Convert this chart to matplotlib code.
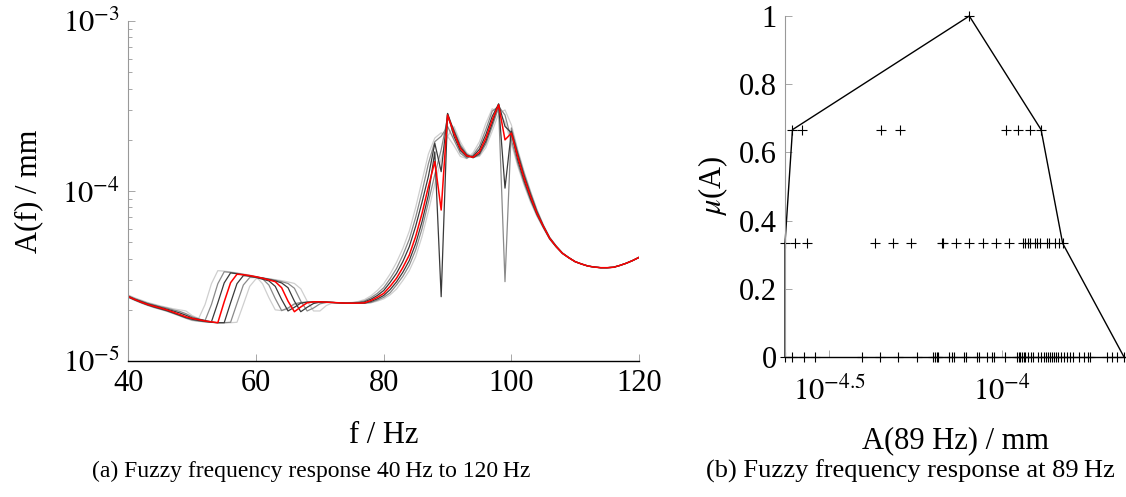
import numpy as np
import matplotlib
matplotlib.use('Agg')
import matplotlib.pyplot as plt
from matplotlib.ticker import LogLocator, NullLocator, FixedLocator, NullFormatter

plt.rcParams['font.family'] = ['Liberation Serif', 'DejaVu Serif']
plt.rcParams['mathtext.fontset'] = 'stix'

# frequency grid (Hz) and amplitudes in 1e-5 mm
freq = np.arange(40, 121)

# shared tail 110..120 Hz
tail = [3.84, 3.72, 3.62, 3.57, 3.54, 3.54, 3.56, 3.65, 3.76, 3.90, 4.07]

red = [2.39, 2.30, 2.22, 2.15, 2.10, 2.05, 2.00, 1.94, 1.88, 1.82,
       1.78, 1.75, 1.72, 1.70, 1.68, 2.23, 2.89, 3.24, 3.22, 3.18,
       3.13, 3.07, 3.00, 2.93, 2.70, 2.25, 1.95, 2.08, 2.20, 2.23,
       2.23, 2.22, 2.21, 2.20, 2.19, 2.19, 2.19, 2.20, 2.27, 2.37,
       2.50, 2.75, 3.07, 3.55, 4.20, 5.40, 7.39, 10.6, 14.9, 7.73,
       28.0, 21.9, 17.8, 16.1, 15.8, 17.0, 20.4, 26.2, 32.1, 20.0,
       21.9, 15.9, 11.9, 9.30, 7.40, 6.20, 5.27, 4.72, 4.30, 4.05] + tail

dark_l = [2.40, 2.31, 2.24, 2.17, 2.12, 2.07, 2.02, 1.97, 1.92, 1.86,
          1.79, 1.76, 1.73, 1.70, 2.20, 2.88, 3.30, 3.26, 3.21, 3.16,
          3.10, 3.03, 2.96, 2.75, 2.30, 1.97, 2.07, 2.19, 2.22, 2.23,
          2.23, 2.22, 2.21, 2.20, 2.19, 2.19, 2.20, 2.23, 2.31, 2.43,
          2.60, 2.90, 3.28, 3.85, 4.70, 6.20, 8.60, 12.2, 19.1, 13.0,
          28.5, 21.0, 17.3, 15.9, 16.0, 17.6, 21.5, 27.5, 32.5, 24.0,
          22.0, 15.2, 11.5, 9.00, 7.30, 6.15, 5.25, 4.71, 4.30, 4.05] + tail

dark_r = [2.38, 2.29, 2.21, 2.14, 2.08, 2.03, 1.98, 1.92, 1.86, 1.80,
          1.76, 1.73, 1.71, 1.69, 1.68, 1.68, 2.20, 2.85, 3.18, 3.16,
          3.13, 3.08, 3.02, 2.96, 2.88, 2.70, 2.25, 1.95, 2.07, 2.18,
          2.22, 2.22, 2.21, 2.20, 2.19, 2.19, 2.19, 2.19, 2.24, 2.32,
          2.43, 2.63, 2.92, 3.33, 3.90, 4.90, 6.60, 9.50, 17.0, 2.39,
          28.6, 22.5, 18.2, 16.3, 15.7, 16.6, 19.6, 25.0, 32.5, 10.4,
          22.5, 16.5, 12.3, 9.55, 7.55, 6.25, 5.30, 4.74, 4.31, 4.05] + tail

gray_l = [2.42, 2.33, 2.26, 2.19, 2.14, 2.09, 2.05, 2.00, 1.96, 1.90,
          1.82, 1.77, 1.73, 2.15, 2.85, 3.35, 3.32, 3.28, 3.23, 3.18,
          3.12, 3.05, 2.80, 2.33, 1.98, 2.05, 2.17, 2.21, 2.22, 2.22,
          2.22, 2.22, 2.21, 2.20, 2.19, 2.20, 2.22, 2.26, 2.36, 2.50,
          2.70, 3.05, 3.50, 4.20, 5.20, 7.00, 9.90, 14.5, 19.5, 21.0,
          24.0, 20.0, 16.7, 15.6, 16.3, 18.4, 23.0, 29.5, 31.5, 28.0,
          20.0, 14.5, 11.1, 8.80, 7.20, 6.10, 5.22, 4.70, 4.29, 4.05] + tail

gray_r = [2.37, 2.28, 2.20, 2.13, 2.07, 2.02, 1.97, 1.91, 1.85, 1.79,
          1.74, 1.72, 1.70, 1.69, 1.68, 1.68, 1.69, 2.18, 2.80, 3.10,
          3.10, 3.08, 3.04, 2.99, 2.93, 2.86, 2.68, 2.25, 1.97, 2.05,
          2.17, 2.21, 2.21, 2.20, 2.19, 2.19, 2.19, 2.19, 2.21, 2.28,
          2.37, 2.52, 2.80, 3.15, 3.65, 4.50, 6.00, 8.60, 12.5, 17.5,
          27.0, 23.0, 18.7, 16.5, 15.7, 16.3, 18.9, 24.0, 31.0, 2.93,
          23.5, 17.0, 12.7, 9.80, 7.70, 6.30, 5.33, 4.76, 4.32, 4.06] + tail

light_l = [2.44, 2.35, 2.28, 2.21, 2.16, 2.11, 2.07, 2.03, 2.00, 1.97,
           1.85, 1.78, 2.15, 2.85, 3.40, 3.38, 3.34, 3.30, 3.25, 3.20,
           3.14, 2.85, 2.36, 2.00, 1.98, 2.02, 2.15, 2.20, 2.21, 2.21,
           2.21, 2.21, 2.21, 2.20, 2.20, 2.21, 2.24, 2.30, 2.42, 2.60,
           2.85, 3.25, 3.80, 4.60, 5.80, 8.00, 11.5, 16.5, 20.5, 22.0,
           21.0, 18.5, 16.0, 15.5, 16.8, 19.5, 25.0, 30.5, 29.0, 25.5,
           19.0, 14.0, 10.8, 8.60, 7.10, 6.05, 5.20, 4.69, 4.28, 4.04] + tail

light_r = [2.36, 2.27, 2.19, 2.12, 2.06, 2.01, 1.96, 1.90, 1.84, 1.78,
           1.73, 1.71, 1.70, 1.69, 1.68, 1.68, 1.68, 1.69, 2.15, 2.75,
           3.05, 3.07, 3.05, 3.01, 2.97, 2.92, 2.86, 2.66, 2.25, 1.97,
           1.97, 2.12, 2.20, 2.20, 2.19, 2.19, 2.19, 2.19, 2.20, 2.25,
           2.32, 2.45, 2.65, 2.98, 3.40, 4.10, 5.40, 7.60, 11.0, 15.5,
           21.0, 24.0, 19.5, 16.8, 15.8, 16.0, 18.0, 22.5, 28.5, 30.0,
           24.5, 17.5, 13.0, 10.0, 7.80, 6.35, 5.35, 4.78, 4.33, 4.07] + tail

# fuzzy samples of A(89 Hz) in mm per membership level
mu0 = [2.36e-5, 2.48e-5, 2.67e-5, 2.89e-5, 3.95e-5, 4.45e-5, 5.02e-5, 5.68e-5,
       6.33e-5, 6.40e-5, 6.47e-5, 6.54e-5, 7.01e-5, 7.17e-5, 7.28e-5, 7.74e-5,
       7.88e-5, 8.47e-5, 8.56e-5, 9.05e-5, 9.35e-5, 9.50e-5, 1.022e-4, 1.105e-4,
       1.117e-4, 1.130e-4, 1.142e-4, 1.155e-4, 1.168e-4, 1.186e-4, 1.208e-4,
       1.229e-4, 1.273e-4, 1.299e-4, 1.325e-4, 1.343e-4, 1.361e-4, 1.379e-4,
       1.398e-4, 1.416e-4, 1.435e-4, 1.454e-4, 1.483e-4, 1.513e-4, 1.544e-4,
       1.575e-4, 1.607e-4, 1.665e-4, 1.721e-4, 1.776e-4, 1.800e-4, 2.011e-4,
       2.079e-4, 2.150e-4, 2.25e-4]
mu1 = [2.36e-5, 2.53e-5, 2.73e-5, 4.28e-5, 4.84e-5, 5.47e-5, 6.72e-5, 6.77e-5,
       7.36e-5, 8.01e-5, 8.79e-5, 9.61e-5, 1.050e-4, 1.147e-4, 1.168e-4,
       1.186e-4, 1.202e-4, 1.242e-4, 1.262e-4, 1.290e-4, 1.349e-4, 1.369e-4,
       1.426e-4, 1.457e-4, 1.496e-4]
mu2 = [2.48e-5, 2.65e-5, 4.48e-5, 5.06e-5, 1.024e-4, 1.110e-4, 1.202e-4, 1.296e-4]
mu3 = [8.04e-5]
levels = [0, 1/3, 2/3, 1]

fig = plt.figure(figsize=(11.26, 4.97), dpi=100)
ax1 = fig.add_axes([0.1141, 0.2736, 0.4534, 0.6841])
ax2 = fig.add_axes([0.6972, 0.2817, 0.3019, 0.6861])

curves = [(light_l, '#cfcfcf'), (light_r, '#cfcfcf'),
          (gray_l, '#8a8a8a'), (gray_r, '#8a8a8a'),
          (dark_l, '#3a3a3a'), (dark_r, '#3a3a3a')]
for vals, c in curves:
    ax1.plot(freq, np.array(vals) * 1e-5, color=c, lw=0.9)
ax1.plot(freq, np.array(red) * 1e-5, color='red', lw=1.1)

ax1.set_yscale('log')
ax1.set_xlim(40, 120)
ax1.set_ylim(1e-5, 1e-3)
ax1.set_xticks([40, 60, 80, 100, 120])
ax1.yaxis.set_major_locator(FixedLocator([1e-5, 1e-4, 1e-3]))
ax1.yaxis.set_minor_locator(LogLocator(base=10, subs=np.arange(2, 10)))
ax1.yaxis.set_minor_formatter(NullFormatter())
ax1.set_yticklabels(['$10^{-5}$', '$10^{-4}$', '$10^{-3}$'])
ax1.set_xlabel('f / Hz', fontsize=22, labelpad=16)
ax1.set_ylabel('A(f) / mm', fontsize=22, labelpad=14)

# right panel
for lv, xs in zip(levels, [mu0, mu1, mu2, mu3]):
    ax2.plot(xs, [lv] * len(xs), '+', color='black', ms=7, mew=0.8, clip_on=False)
env_x = [min(mu0), min(mu1), min(mu2), mu3[0], max(mu2), max(mu1), max(mu0)]
env_y = [0, 1/3, 2/3, 1, 2/3, 1/3, 0]
ax2.plot(env_x, env_y, color='black', lw=1.0, clip_on=False)
ax2.set_xscale('log')
ax2.set_xlim(10 ** -4.627, 10 ** -3.645)
ax2.set_ylim(0, 1)
ax2.xaxis.set_major_locator(FixedLocator([10 ** -4.5, 1e-4]))
ax2.xaxis.set_minor_locator(NullLocator())
ax2.set_xticklabels(['$10^{-4.5}$', '$10^{-4}$'])
ax2.set_yticks([0, 0.2, 0.4, 0.6, 0.8, 1])
ax2.set_yticklabels(['0', '0.2', '0.4', '0.6', '0.8', '1'])
ax2.set_xlabel('A(89 Hz) / mm', fontsize=22, labelpad=14)
ax2.set_ylabel(r'$\mu$(A)', fontsize=22, labelpad=6)

for ax in (ax1, ax2):
    ax.spines['top'].set_visible(False)
    ax.spines['right'].set_visible(False)
    ax.spines['left'].set_color('#999999')
    ax.spines['left'].set_linewidth(0.8)
    ax.spines['bottom'].set_color('black')
    ax.spines['bottom'].set_linewidth(1.0)
    ax.tick_params(which='major', direction='in', length=5, width=0.6,
                   color='#999999', labelsize=22, pad=6)
    ax.tick_params(which='minor', direction='in', length=3, width=0.6,
                   color='#999999')
ax2.tick_params(axis='x', pad=14)

fig.text(0.276, 0.052, '(a) Fuzzy frequency response 40\u2009Hz to 120\u2009Hz',
         ha='center', va='center', fontsize=17)
fig.text(0.8086, 0.052, '(b) Fuzzy frequency response at 89\u2009Hz',
         ha='center', va='center', fontsize=19)

fig.savefig('out.png', dpi=100)
